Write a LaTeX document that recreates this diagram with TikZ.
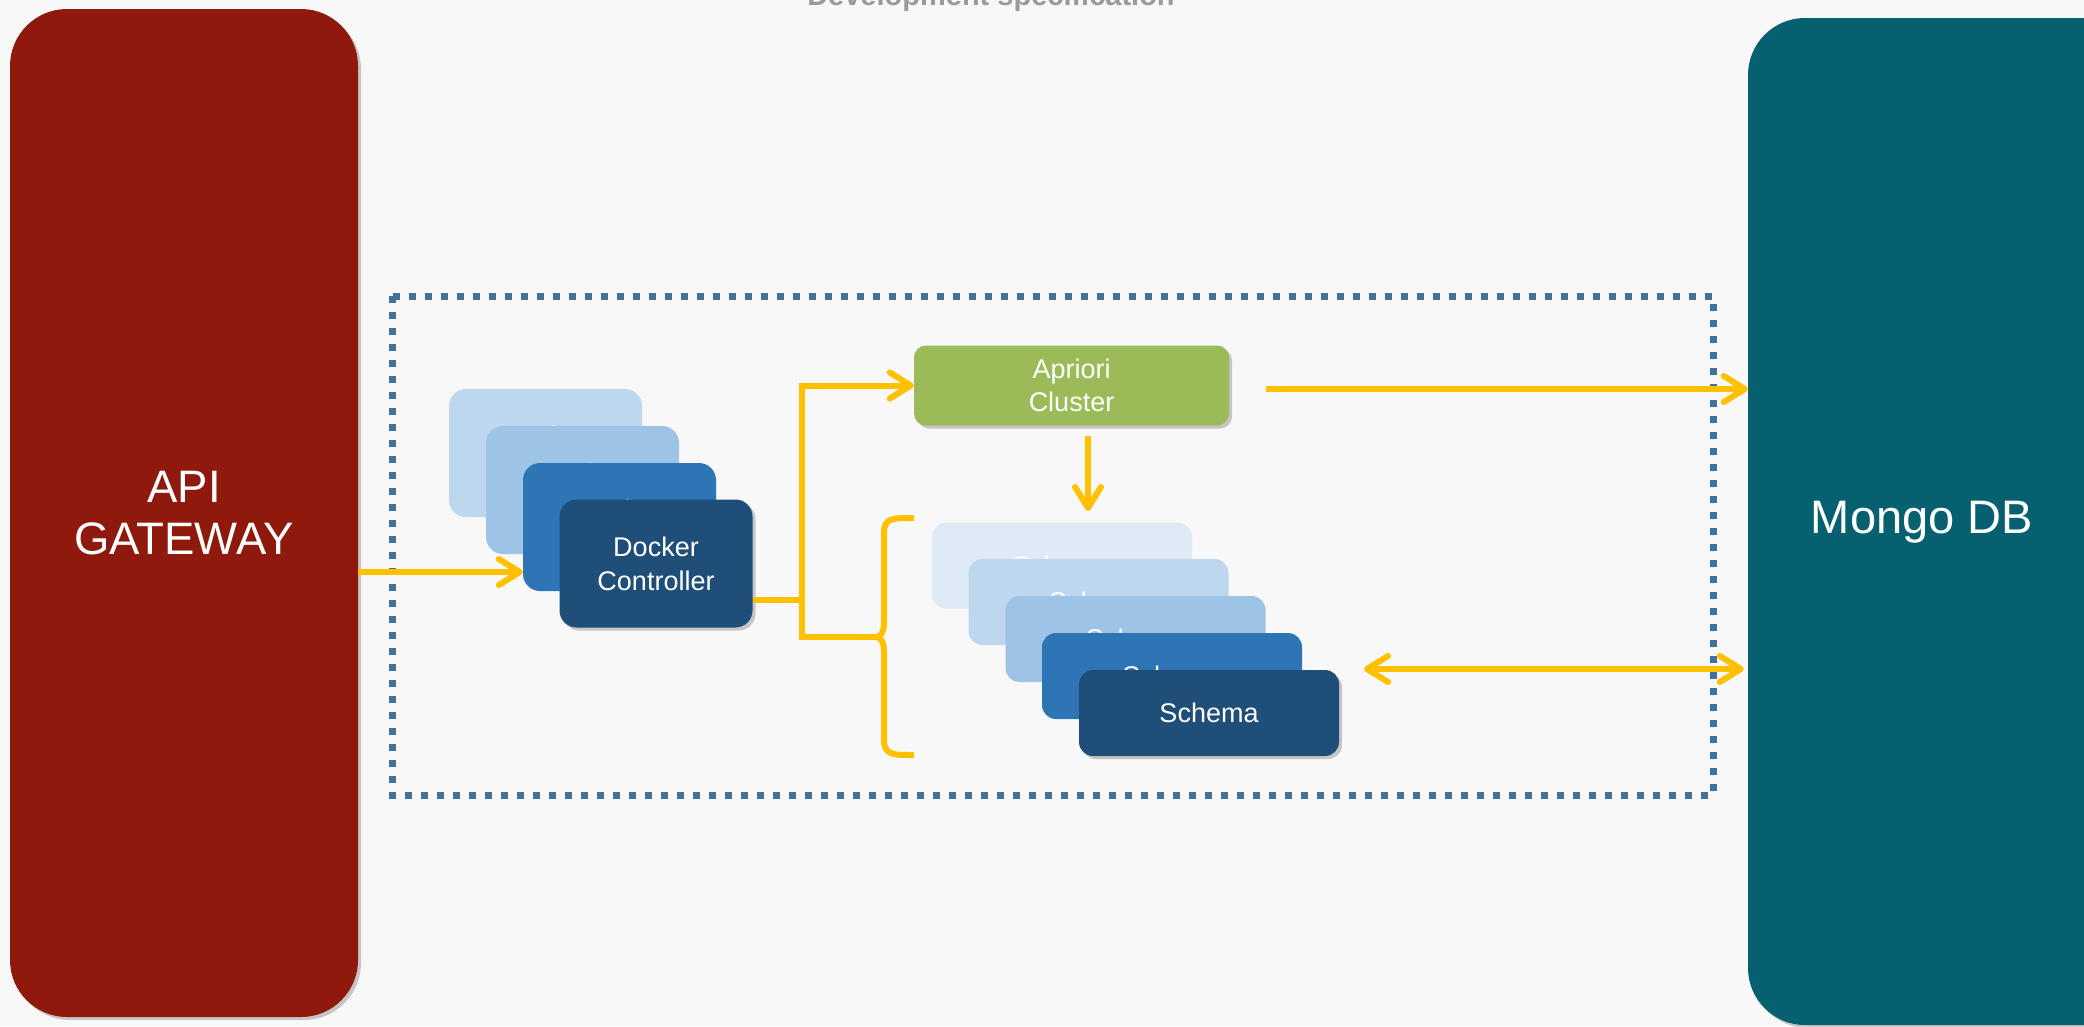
\documentclass[tikz,border=0pt]{standalone}
\usepackage{fontspec}
\setmainfont{Liberation Sans}
\usetikzlibrary{arrows.meta,shadows}
\definecolor{bg}{HTML}{F8F8F8}
\definecolor{apired}{HTML}{8F190C}
\definecolor{mongoteal}{HTML}{06606F}
\definecolor{dotblue}{HTML}{41719C}
\definecolor{yel}{HTML}{FFC000}
\definecolor{aprgreen}{HTML}{9BBB59}
\definecolor{bA}{HTML}{1F4E79}
\definecolor{bB}{HTML}{2E75B6}
\definecolor{bC}{HTML}{9DC3E6}
\definecolor{bD}{HTML}{BDD7EE}
\definecolor{bE}{HTML}{DEEBF7}
\definecolor{titlegray}{HTML}{9A9A9A}
\begin{document}
\begin{tikzpicture}[x=1pt,y=-1pt,
  shad/.style={drop shadow={shadow xshift=3pt,shadow yshift=-3pt,opacity=0.2,fill=black}},
  bigbox/.style={rounded corners=57pt, inner sep=0pt, text=white, align=center},
  dockbox/.style={rounded corners=17pt, minimum width=193pt, minimum height=128pt, inner sep=0pt,
    text=white, align=center, font=\fontsize{27}{34}\selectfont},
  schbox/.style={rounded corners=14pt, minimum width=260pt, minimum height=86pt, inner sep=0pt,
    text=white, align=center, font=\fontsize{27}{33}\selectfont},
  conn/.style={draw=yel, line width=6pt},
  tipc/.style={-{Straight Barb[length=21pt,width=26pt,round]}},
  tipboth/.style={{Straight Barb[length=21pt,width=26pt,round]}-{Straight Barb[length=21pt,width=26pt,round]}}
]
% canvas
\path[use as bounding box, fill=bg] (0,0) rectangle (2084,1026);

% title (cut by top edge, as in the reference)
\node[anchor=base, text=titlegray, font=\fontsize{29}{34}\selectfont\bfseries, inner sep=0pt] (title) at (991,5) {Development specification};

% container frame
\draw[dotblue, line width=7pt, dash pattern=on 7pt off 9pt] (392,296) rectangle (1713,795);

% API gateway
\node[bigbox, shad, fill=apired, minimum width=348pt, minimum height=1008pt,
  font=\fontsize{45.5}{52}\selectfont] (api) at (184,513) {API\\GATEWAY};

% Mongo DB (runs past right edge)
\begin{scope}
\clip (0,0) rectangle (2084,1026);
\node[bigbox, shad, fill=mongoteal, minimum width=394pt, minimum height=1007pt] (mongo) at (1945,521.5) {};
\end{scope}
\node[text=white, font=\fontsize{47}{52}\selectfont, inner sep=0pt] (mongotext) at (1922,522) {Mongo DB};

% Docker stack
\node[dockbox, fill=bD] (d1) at (545.5,453) {Docker\\Controller};
\node[dockbox, fill=bC] (d2) at (582.5,490) {Docker\\Controller};
\node[dockbox, fill=bB] (d3) at (619.5,527) {Docker\\Controller};
\node[dockbox, shad, fill=bA] (d4) at (656,563.5) {Docker\\Controller};

% Apriori
\node[rounded corners=12pt, shad, fill=aprgreen, minimum width=315pt, minimum height=80pt, inner sep=0pt,
  text=white, align=center, font=\fontsize{27}{33}\selectfont] (apr) at (1071.5,385.5) {Apriori\\Cluster};

% Schema stack
\node[schbox, fill=bE] (s1) at (1062,565.5) {Schema};
\node[schbox, fill=bD] (s2) at (1098.5,602) {Schema};
\node[schbox, fill=bC] (s3) at (1135.5,639) {Schema};
\node[schbox, fill=bB] (s4) at (1172,676) {Schema};
\node[schbox, shad, fill=bA] (s5) at (1209,713) {Schema};

% connector coordinates
\coordinate (apiout) at (358,572);
\coordinate (dout) at (753,600);
\coordinate (split) at (802,600);
\coordinate (splittop) at (802,385.5);
\coordinate (splitbot) at (802,637);
\coordinate (bracecusp) at (876,637);
\coordinate (aprout) at (1266,389);
\coordinate (aprdown) at (1088,436);
\coordinate (schin) at (1088,511);
\coordinate (schout) at (1364,669);

% connectors
\draw[conn, tipc] (apiout) -- (d3.west |- apiout);
\draw[conn] (dout) -- (split);
\draw[conn, tipc, line join=miter] (bracecusp) -- (splitbot) -- (splittop) -- (apr.west);
\draw[conn, tipc] (aprout) -- (mongo.west |- aprout);
\draw[conn, tipc] (aprdown) -- (schin);
\draw[conn, tipboth] (schout) -- ([xshift=-4pt]mongo.west |- schout);

% brace
\draw[conn, line cap=butt] (914,518) .. controls (892,518) and (884,518) .. (884,533) -- (884,622)
  .. controls (884,632) and (881,637) .. (bracecusp)
  .. controls (881,637) and (884,642) .. (884,652) -- (884,739)
  .. controls (884,755) and (892,755) .. (914,755);
\end{tikzpicture}
\end{document}
